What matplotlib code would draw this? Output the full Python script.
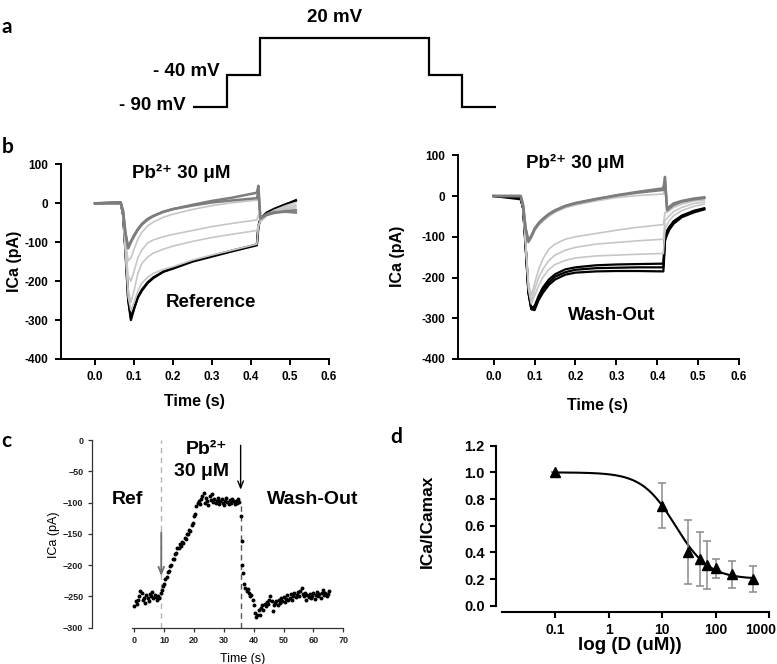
import matplotlib.pyplot as plt
from matplotlib.ticker import NullLocator
from matplotlib.transforms import ScaledTranslation

plt.rcParams['font.family'] = ['Liberation Sans', 'DejaVu Sans']
plt.rcParams['font.weight'] = 'bold'
plt.rcParams['axes.labelweight'] = 'bold'

W, H = 777, 664

# ---------------- data ----------------
# a: voltage protocol (segment edges in arbitrary time units, levels in mV)
proto_edges = [0, 1, 2, 7, 8, 9]
proto_mv = [-90, -40, 20, -40, -90]

# b: ICa traces (pA) sampled at t_b (s)
t_b = [0.0, 0.066, 0.072, 0.078, 0.085, 0.092, 0.10, 0.11, 0.12, 0.135, 0.15, 0.175,
       0.20, 0.25, 0.30, 0.35, 0.415, 0.419, 0.424, 0.43, 0.44, 0.46, 0.49, 0.515]

# left: reference -> Pb2+
ref_pb1 = [0, 2, -20, -75, -116, -100, -85, -68, -55, -42, -33, -22, -15, -4, 6, 14, 27, 45, -38, -35, -28, -23, -22, -24]
ref_pb2 = [0, 0, -22, -78, -113, -98, -82, -66, -53, -40, -32, -22, -15, -6, 2, 7, 13, 30, -40, -36, -30, -25, -20, -18]
ref_mid1 = [0, 0, -25, -95, -148, -140, -118, -92, -75, -58, -48, -36, -28, -16, -6, 1, 8, 15, -42, -38, -30, -22, -15, -12]
ref_mid2 = [0, 0, -28, -110, -185, -200, -175, -140, -120, -102, -94, -86, -80, -70, -60, -52, -43, -30, -45, -40, -32, -24, -14, -8]
ref_mid3 = [0, 0, -30, -120, -220, -255, -225, -180, -155, -138, -128, -118, -110, -98, -88, -80, -70, -55, -48, -42, -32, -22, -10, -4]
ref_mid4 = [0, 0, -30, -125, -240, -275, -255, -225, -205, -190, -180, -170, -163, -146, -133, -121, -105, -60, -45, -38, -28, -18, -6, 2]
ref_ctl1 = [0, 2, -30, -125, -250, -300, -272, -242, -225, -205, -192, -176, -168, -150, -137, -124, -108, -60, -42, -36, -26, -16, -3, 8]
ref_ctl2 = [0, 0, -30, -120, -245, -295, -270, -240, -222, -203, -190, -176, -166, -148, -135, -122, -106, -58, -40, -34, -24, -14, -2, 6]

# right: Pb2+ -> wash-out
wo_pb1 = [0, 0, -25, -80, -112, -100, -82, -68, -58, -45, -36, -25, -18, -8, 2, 10, 19, 47, -35, -30, -22, -14, -8, -5]
wo_pb2 = [0, 0, -22, -78, -110, -98, -80, -66, -56, -44, -35, -24, -17, -7, 1, 8, 15, 35, -30, -26, -18, -12, -6, -3]
wo_mid1 = [0, 0, -22, -80, -115, -102, -86, -72, -62, -50, -40, -29, -22, -12, -4, 1, 5, 20, -30, -27, -20, -13, -8, -6]
wo_mid2 = [0, 0, -28, -110, -210, -245, -215, -180, -155, -130, -118, -106, -100, -92, -84, -77, -70, -40, -40, -36, -28, -20, -12, -10]
wo_mid3 = [0, 0, -28, -115, -220, -258, -230, -200, -180, -158, -145, -133, -126, -118, -114, -110, -106, -60, -55, -48, -38, -28, -18, -15]
wo_mid4 = [0, 0, -30, -118, -228, -265, -245, -220, -200, -180, -168, -158, -152, -147, -145, -143, -141, -80, -70, -60, -48, -36, -25, -20]
wo_ctl1 = [0, -5, -30, -120, -235, -275, -270, -245, -225, -205, -192, -180, -175, -170, -168, -167, -166, -100, -85, -75, -62, -48, -36, -30]
wo_ctl2 = [0, -8, -30, -122, -238, -278, -280, -255, -238, -218, -205, -193, -188, -185, -184, -184, -185, -110, -95, -82, -68, -52, -40, -33]
wo_ctl3 = [0, 0, -30, -120, -236, -276, -275, -250, -230, -212, -198, -187, -181, -177, -176, -175, -175, -105, -90, -78, -65, -50, -38, -31]

# c: ICa time course
t_c = [0.0, 0.4, 0.8, 1.2, 1.6, 2.0, 2.4, 2.8, 3.2, 3.6,
       4.0, 4.4, 4.8, 5.2, 5.6, 6.0, 6.4, 6.8, 7.2, 7.6,
       8.0, 8.4, 8.8,
       9.2, 9.6, 10.0, 10.4, 10.8, 11.2, 11.6, 12.0, 12.4, 12.8,
       13.2, 13.6, 14.0, 14.4, 14.8, 15.2, 15.6, 16.0, 16.4, 16.8,
       17.2, 17.6, 18.0, 18.4, 18.8, 19.2, 19.6, 20.0, 20.4, 20.8,
       21.2,
       21.6, 22.0, 22.4, 22.8, 23.2, 23.6, 24.0, 24.4, 24.8, 25.2,
       25.6, 26.0, 26.4, 26.8, 27.2, 27.6, 28.0, 28.4, 28.8, 29.2,
       29.6, 30.0, 30.4, 30.8, 31.2, 31.6, 32.0, 32.4, 32.8, 33.2,
       33.6, 34.0, 34.4, 34.8, 35.2,
       35.8, 36.0, 36.2, 36.4,
       36.8, 37.2, 37.6, 38.0, 38.4, 38.8, 39.2, 39.6, 40.0, 40.4,
       40.8, 41.2, 41.6, 42.0, 42.4, 42.8, 43.2, 43.6, 44.0, 44.4,
       44.8, 45.2, 45.6, 46.0, 46.4, 46.8, 47.2, 47.6, 48.0, 48.4,
       48.8, 49.2, 49.6, 50.0, 50.4, 50.8, 51.2, 51.6, 52.0, 52.4,
       52.8, 53.2, 53.6, 54.0, 54.4, 54.8, 55.2, 55.6, 56.0, 56.4,
       56.8, 57.2, 57.6, 58.0, 58.4, 58.8, 59.2, 59.6, 60.0, 60.4,
       60.8, 61.2, 61.6, 62.0, 62.4, 62.8, 63.2, 63.6, 64.0, 64.4,
       64.8, 65.2]
ica_c = [-265, -258, -262, -255, -250, -241, -244, -256, -252, -260,
         -248, -253, -257, -246, -250, -243, -253, -248, -251, -255,
         -249, -252, -244,
         -240, -233, -230, -222, -219, -211, -209, -201, -199, -190,
         -190, -182, -180, -173, -172, -167, -169, -163, -164, -157,
         -158, -150, -151, -144, -145, -136, -133, -122, -119, -106,
         -101,
         -97, -102, -95, -90, -84, -100, -93, -98, -104, -90,
         -96, -86, -99, -94, -101, -97, -92, -103, -98, -95,
         -100, -104, -97, -93, -99, -102, -96, -100, -94, -98,
         -103, -97, -101, -95, -99,
         -121, -161, -199, -213,
         -230, -236, -241, -238, -245, -249, -247, -255, -263, -276,
         -283, -280, -271, -279, -268, -264, -272, -262, -266, -259,
         -262, -255, -249, -258, -274, -264, -261, -258, -263, -256,
         -260, -253, -257, -251, -259, -254, -248, -256, -252, -246,
         -255, -249, -244, -251, -247, -243, -250, -241, -237, -246,
         -250, -244, -255, -248, -251, -246, -253, -249, -244, -254,
         -247, -243, -250, -246, -252, -245, -240, -248, -244, -250,
         -246, -242]
pb_on, pb_off = 9.0, 35.6

# d: dose-response
conc = [0.1, 10, 30, 50, 70, 100, 200, 500]
ratio = [1.0, 0.75, 0.40, 0.35, 0.305, 0.28, 0.235, 0.20]
ratio_err = [0, 0.17, 0.24, 0.20, 0.18, 0.07, 0.10, 0.10]
hill_top, hill_bottom, hill_ic50, hill_n = 1.0, 0.2, 17.6, 1.39

DARK, LIGHT = '#7d7d7d', '#c6c6c6'
PB_LABEL = 'Pb²⁺ 30 μM'

fig = plt.figure(figsize=(W / 100, H / 100), dpi=100)


def ax_at(x0, y0, x1, y1):
    # pixel box (left, top, right, bottom) -> axes
    return fig.add_axes([x0 / W, 1 - y1 / H, (x1 - x0) / W, (y1 - y0) / H])


def ftext(x, y, s, **kw):
    kw.setdefault('ha', 'center')
    kw.setdefault('va', 'center')
    fig.text(x / W, 1 - y / H, s, **kw)


def bold_ticks(ax):
    for lab in ax.get_xticklabels() + ax.get_yticklabels():
        lab.set_fontweight('bold')


# ---------------- a ----------------
ax_a = ax_at(193, 31.8, 496, 112.9)
ax_a.stairs(proto_mv, proto_edges, baseline=None, color='k', lw=1.6, clip_on=False)
ax_a.set_xlim(0, 9)
ax_a.set_ylim(-100, 30)
ax_a.axis('off')
ftext(335, 18, '20 mV', fontsize=13.5)
ftext(220, 72, '- 40 mV', fontsize=13.5, ha='right')
ftext(186, 106, '- 90 mV', fontsize=13.5, ha='right')

# ---------------- b ----------------
def style_b(ax):
    for s in ['top', 'right']:
        ax.spines[s].set_visible(False)
    for s in ['left', 'bottom']:
        ax.spines[s].set_linewidth(1.4)
    ax.tick_params(width=1.4, length=4, labelsize=8.5, pad=5)
    ax.set_xlim(-0.088, 0.6)
    ax.set_ylim(-400, 100)
    ax.set_xticks([0.0, 0.1, 0.2, 0.3, 0.4, 0.5, 0.6])
    ax.set_xticklabels(['0.0', '0.1', '0.2', '0.3', '0.4', '0.5', '0.6'])
    ax.set_yticks([-400, -300, -200, -100, 0, 100])
    ax.set_yticklabels(['-400', '-300', '-200', '-100', '0', '100'])
    ax.set_xlabel('Time (s)', fontsize=11.5)
    ax.set_ylabel('ICa (pA)', fontsize=11.5)
    bold_ticks(ax)


ax_bl = ax_at(60.7, 164.3, 329, 359)
for tr in [ref_ctl1, ref_ctl2]:
    ax_bl.plot(t_b, tr, color='k', lw=1.6)
for tr in [ref_mid4, ref_mid3, ref_mid2, ref_mid1]:
    ax_bl.plot(t_b, tr, color=LIGHT, lw=1.2)
for tr in [ref_pb1, ref_pb2]:
    ax_bl.plot(t_b, tr, color=DARK, lw=1.8)
style_b(ax_bl)
ax_bl.xaxis.set_label_coords(0.498, -0.182)
ax_bl.yaxis.set_label_coords(-0.145, 0.50)

ax_br = ax_at(457.7, 155.3, 739, 359)
for tr in [wo_ctl1, wo_ctl2, wo_ctl3]:
    ax_br.plot(t_b, tr, color='k', lw=1.6)
for tr in [wo_mid4, wo_mid3, wo_mid2, wo_mid1]:
    ax_br.plot(t_b, tr, color=LIGHT, lw=1.2)
for tr in [wo_pb1, wo_pb2]:
    ax_br.plot(t_b, tr, color=DARK, lw=1.8)
style_b(ax_br)
ax_br.xaxis.set_label_coords(0.495, -0.191)
ax_br.yaxis.set_label_coords(-0.187, 0.502)

ftext(181.7, 173, PB_LABEL, fontsize=13.5)
ftext(210.7, 302.7, 'Reference', fontsize=13.5)
ftext(575, 163.3, PB_LABEL, fontsize=13.5)
ftext(611.7, 315, 'Wash-Out', fontsize=13.5)

# ---------------- c ----------------
ax_c = ax_at(91.7, 440, 343.3, 627.7)
ax_c.vlines(pb_on, -300, 0, colors='#b4b4b4', linestyles=(0, (4, 3)), lw=1.0)
ax_c.vlines(pb_off, -300, -100, colors='#555555', linestyles=(0, (4, 3)), lw=1.0)
ax_c.scatter(t_c, ica_c, s=8, color='k', linewidths=0, zorder=3)
ax_c.annotate('', xy=(pb_on, -222), xytext=(pb_on, -143),
              arrowprops=dict(arrowstyle='->,head_length=0.5,head_width=0.2', color='#6e6e6e', lw=1.3))
ax_c.annotate('', xy=(pb_off, -84), xytext=(pb_off, -4),
              arrowprops=dict(arrowstyle='->,head_length=0.5,head_width=0.2', color='k', lw=1.0))
ax_c.set_xlim(-14.3, 70)
ax_c.set_ylim(-300, 0)
for s in ['top', 'right']:
    ax_c.spines[s].set_visible(False)
for s in ['left', 'bottom']:
    ax_c.spines[s].set_linewidth(0.9)
    ax_c.spines[s].set_color('#333333')
ax_c.spines['bottom'].set_bounds(-0.9, 70)
ax_c.set_xticks(range(0, 71, 10))
ax_c.set_yticks(range(-300, 1, 50))
ax_c.tick_params(length=3, width=0.9, labelsize=6.5, color='#333333', labelcolor='#222222', pad=3)
bold_ticks(ax_c)
ax_c.set_xlabel('Time (s)', fontsize=9, fontweight='normal')
ax_c.set_ylabel('ICa (pA)', fontsize=9, fontweight='normal')
ax_c.xaxis.set_label_coords(0.599, -0.135)
ax_c.yaxis.set_label_coords(-0.126, 0.494)
ftext(127, 500, 'Ref', fontsize=14)
ftext(313, 500, 'Wash-Out', fontsize=14)
ftext(206, 450, 'Pb²⁺', fontsize=14)
ftext(201, 472, '30 μM', fontsize=14)

# ---------------- d ----------------
ax_d = ax_at(501.7, 445.7, 769.3, 605.7)
xs = [conc[0] * (conc[-1] / conc[0]) ** (k / 200) for k in range(201)]
fit = [hill_bottom + (hill_top - hill_bottom) / (1 + (x / hill_ic50) ** hill_n) for x in xs]
ax_d.plot(xs, fit, color='k', lw=1.5)
ax_d.errorbar(conc, ratio, yerr=ratio_err, fmt='none', ecolor='#8a8a8a', elinewidth=1.1, capsize=3, capthick=1.1)
ax_d.plot(conc, ratio, '^', color='k', ms=7)
ax_d.set_xscale('log')
ax_d.set_xlim(0.01, 1000)
ax_d.set_ylim(0, 1.2)
for s in ['top', 'right']:
    ax_d.spines[s].set_visible(False)
for s in ['left', 'bottom']:
    ax_d.spines[s].set_linewidth(1.5)
    ax_d.spines[s].set_position(('outward', 4.2))
ax_d.set_xticks([0.1, 1, 10, 100, 1000])
ax_d.set_xticklabels(['0.1', '1', '10', '100', '1000'])
ax_d.xaxis.set_minor_locator(NullLocator())
ax_d.set_yticks([0.0, 0.2, 0.4, 0.6, 0.8, 1.0, 1.2])
ax_d.set_yticklabels(['0.0', '0.2', '0.4', '0.6', '0.8', '1.0', '1.2'])
ax_d.tick_params(axis='y', length=4, width=1.5, labelsize=10.5, pad=4)
ax_d.tick_params(axis='x', length=4, width=1.5, labelsize=10, pad=4)
bold_ticks(ax_d)
# keep the last label inside the figure edge
last = ax_d.get_xticklabels()[-1]
last.set_transform(last.get_transform() + ScaledTranslation(-0.085, 0, fig.dpi_scale_trans))
ax_d.set_xlabel('log (D (uM))', fontsize=13.5)
ax_d.set_ylabel('ICa/ICamax', fontsize=12.5)
ax_d.xaxis.set_label_coords(0.479, -0.194)
ax_d.yaxis.set_label_coords(-0.249, 0.525)

# panel letters
for letter, x, y in [('a', 7, 27), ('b', 8, 147), ('c', 6, 441), ('d', 396, 437)]:
    ftext(x, y, letter, fontsize=15, family=['Lato', 'DejaVu Sans'])

fig.savefig('out.png', dpi=100)
